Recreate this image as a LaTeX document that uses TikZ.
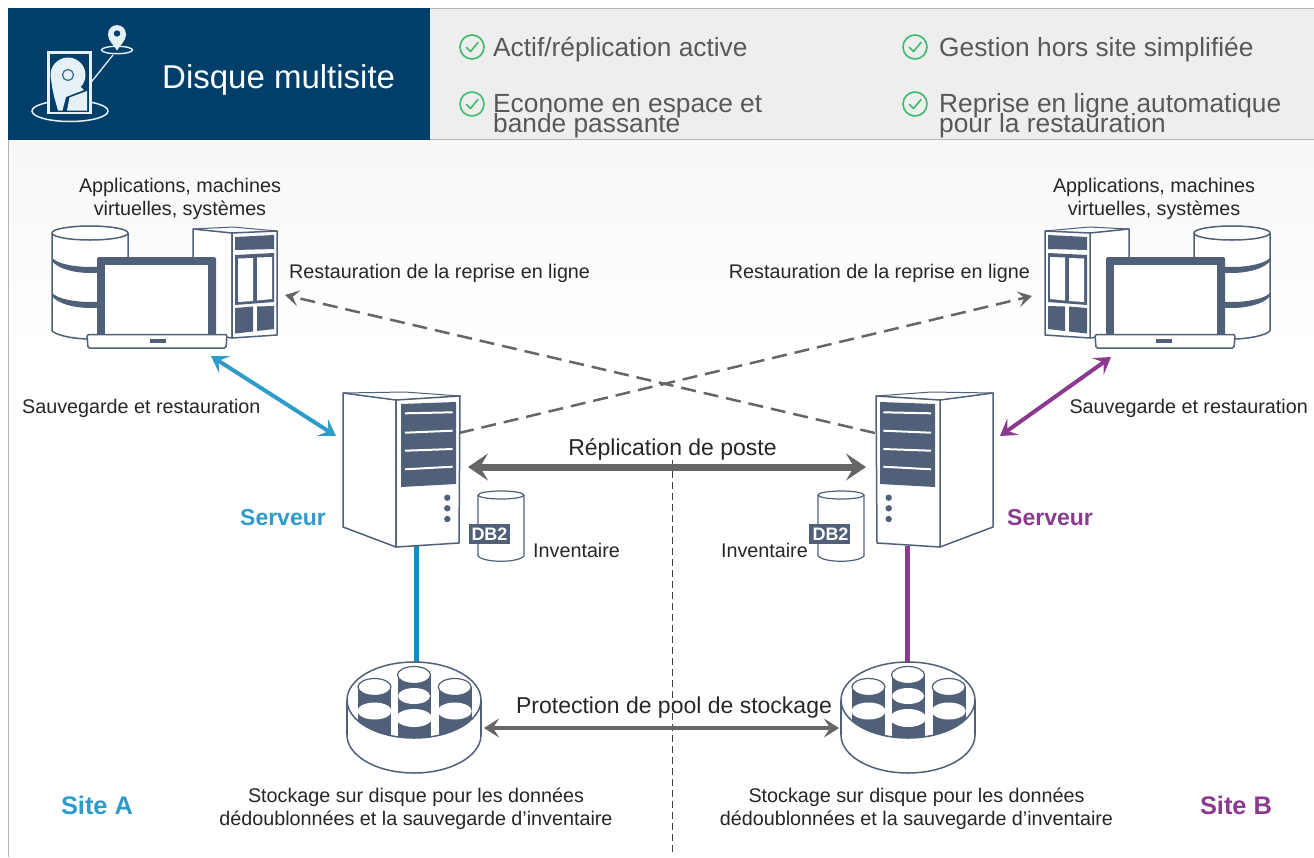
\documentclass[tikz,border=0pt]{standalone}
\usepackage{fontspec}
\setmainfont{Liberation Sans}
\usetikzlibrary{arrows.meta}
\definecolor{navy}{HTML}{003F69}
\definecolor{slate}{HTML}{4F6078}
\definecolor{hdrgray}{HTML}{EEEEEE}
\definecolor{edgegray}{HTML}{B5B5B5}
\definecolor{txtgray}{HTML}{58585C}
\definecolor{okgreen}{HTML}{3DBA6F}
\definecolor{arrowgray}{HTML}{666666}
\definecolor{blueA}{HTML}{0C8FC4}
\definecolor{blueB}{HTML}{2E9CCB}
\definecolor{purpA}{HTML}{8A3A8F}
\definecolor{iconpale}{HTML}{E6F0F7}
\tikzset{
  ol/.style={draw=slate,line width=1.5pt,line join=round},
  lbl/.style={font=\fontsize{19.75}{23}\selectfont,text=black!85,inner sep=0pt,align=center},
  feat/.style={font=\fontsize{26.3}{20}\selectfont,text=txtgray,inner sep=0pt,anchor=base west},
  checkring/.style={draw=okgreen,line width=1.6pt,fill=none},
  checkmark/.style={draw=okgreen,line width=1.6pt,line cap=round,line join=round},
  bigarrow/.style={draw=arrowgray,line width=7pt,{Stealth[length=20pt,width=27pt,inset=8pt]}-{Stealth[length=20pt,width=27pt,inset=8pt]}},
  midarrow/.style={draw=arrowgray,line width=4.5pt,{Stealth[length=15pt,width=19pt,inset=6pt]}-{Stealth[length=15pt,width=19pt,inset=6pt]}},
  thinarrow/.style={line width=4pt,{Stealth[length=16pt,width=20pt,inset=7pt]}-{Stealth[length=16pt,width=20pt,inset=7pt]}},
  dasharrow/.style={draw=arrowgray,line width=2.5pt,dash pattern=on 15pt off 8pt,-{Stealth[length=14pt,width=16pt,inset=6pt]}},
}
\newcommand{\clientgroup}{%
  % database stack
  \fill[white] (52,233) rectangle (128,331);
  \fill[white] (52,331) .. controls (58,336) and (75,339) .. (90,339) .. controls (105,339) and (122,336) .. (128,331) -- cycle;
  \draw[ol] (52,233) -- (52,331) .. controls (58,336) and (75,339) .. (90,339) .. controls (105,339) and (122,336) .. (128,331) -- (128,233);
  \fill[slate] (52,258) .. controls (58,264) and (75,267) .. (90,267) .. controls (105,267) and (122,264) .. (128,258) -- (128,261) .. controls (122,269) and (105,273) .. (90,273) .. controls (75,273) and (58,269) .. (52,261) -- cycle;
  \fill[slate] (52,293) .. controls (58,299) and (75,302) .. (90,302) .. controls (105,302) and (122,299) .. (128,293) -- (128,296) .. controls (122,304) and (105,308) .. (90,308) .. controls (75,308) and (58,304) .. (52,296) -- cycle;
  \draw[ol,fill=white] (90,233) ellipse (38 and 7);
  % tower
  \draw[ol,fill=white] (193,229) -- (232,233) -- (232,338) -- (193,332) -- cycle;
  \draw[ol,fill=white] (232,233) -- (277,231) -- (277,335) -- (232,338) -- cycle;
  \draw[ol,line width=1pt] (193,229) -- (233,227) -- (277,231);
  \fill[slate] (235,237) -- (274,235) -- (274,249) -- (235,250) -- cycle;
  \fill[slate] (235,255) -- (274,253) -- (274,302) -- (235,305) -- cycle;
  \fill[white] (238,258.5) -- (253,258) -- (253,301) -- (238,302) -- cycle;
  \fill[white] (257,257.5) -- (272,257) -- (272,299) -- (257,300.5) -- cycle;
  \fill[slate] (235,308) -- (253,306.5) -- (253,331.5) -- (235,333.5) -- cycle;
  \fill[slate] (257,306.5) -- (274,306) -- (274,329) -- (257,331) -- cycle;
  % laptop
  \fill[slate,rounded corners=1.5pt] (97,257) rectangle (216,335);
  \fill[white] (105,265) rectangle (208,335);
  \draw[ol,fill=white,rounded corners=1.5pt] (87,334.5) -- (227,334.5) -- (226,348) -- (88,348) -- cycle;
  \fill[slate] (150,338.5) rectangle (166,343);
}
\newcommand{\servertower}{%
  \draw[ol,fill=white] (343,393) -- (396,400) -- (396,547) -- (343,527) -- cycle;
  \draw[ol,fill=white] (396,400) -- (460,396) -- (459,543) -- (396,547) -- cycle;
  \draw[ol,line width=1pt] (343,393) -- (405,392) -- (460,396);
  \fill[slate] (401,404) -- (456,402) -- (456,484) -- (401,487) -- cycle;
  \foreach \a/\b in {413.3/412.3,432.7/430.7,450.7/449,469.3/466.7}
    \draw[white,line width=2pt] (405,\a) -- (452.7,\b);
  \foreach \d in {497.7,508.3,519}
    \fill[slate] (447.3,\d) circle (3.2);
}
\newcommand{\dbcyl}{%
  \draw[ol,line width=1.2pt,fill=white] (478,495) -- (478,556) .. controls (484,563) and (518,563) .. (524,556) -- (524,495);
  \draw[ol,line width=1.2pt,fill=white] (501,495) ellipse (23 and 4);
  \fill[slate] (469,524) rectangle (510,544);
}
\newcommand{\diskpool}{%
  \draw[ol,fill=white] (414,735) ellipse (67 and 38);
  \fill[white] (347,700) rectangle (481,735);
  \draw[ol] (347,700) -- (347,735);
  \draw[ol] (481,700) -- (481,735);
  \draw[ol,fill=white] (414,700) ellipse (67 and 38);
  \begin{scope}
    \clip (414,700.5) ellipse (66 and 37.5);
    \fill[slate] (357.5,687) rectangle (391,745);
    \fill[slate] (398,675) rectangle (431,745);
    \fill[slate] (438.5,687) rectangle (472,745);
  \end{scope}
  \foreach \x/\y/\rx/\ry in {414/675/16.5/8.5,374.5/687/16.5/8.5,454.7/687/16.5/8.5}
    \draw[draw=slate,line width=1.2pt,fill=white] (\x,\y) ellipse (\rx pt and \ry pt);
  \foreach \x/\y/\rx/\ry in {414/696/16/8,414/718/18/9,374.5/711/17/8.5,454.7/711/17/8.5}
    \fill[white] (\x,\y) ellipse (\rx pt and \ry pt);
}
\newcommand{\checkicon}[2]{%
  \draw[checkring] (#1,#2) circle (12);
  \draw[checkmark] (#1-5.5,#2+0.5) -- (#1-1.5,#2+4.5) -- (#1+6,#2-4.5);
}
\begin{document}
\begin{tikzpicture}[x=1pt,y=-1pt]
\useasboundingbox (0,0) rectangle (1314,857);
\fill[white] (0,0) rectangle (1314,857);
% soft background below the header
\shade[top color=black!3,bottom color=white] (8,140) rectangle (1314,350);
% header
\fill[hdrgray] (430,8) rectangle (1314,139.5);
\draw[edgegray,line width=1pt] (430,8) -- (1314,8);
\draw[edgegray,line width=1pt] (430,139.5) -- (1314,139.5);
\draw[edgegray,line width=1pt] (8,140) -- (8,857);
\fill[navy] (8,8) rectangle (430,140);
% header icon
\draw[iconpale,line width=1.5pt] (70,111) ellipse (38 and 10.5);
\draw[draw=iconpale,fill=navy,line width=2.2pt] (48.5,52.5) rectangle (90.5,113);
\fill[iconpale] (68,75) circle (17.5);
\fill[iconpale] (51,78) .. controls (52,90) and (55,100) .. (58,110.5) -- (62.5,110.5) -- (66,97) -- (84,90) -- (68,75) -- cycle;
\fill[iconpale] (67,110.5) -- (69.5,97.5) -- (87,91) -- (87,110.5) -- cycle;
\draw[navy!75!white,line width=1.3pt,fill=iconpale] (68,75) circle (5.5);
\draw[iconpale,line width=1.3pt] (90.5,83) -- (113,55);
\draw[iconpale,line width=1.4pt] (117,50) ellipse (15.5 and 3.7);
\fill[iconpale] (117,50.5) .. controls (114,45) and (108,41) .. (108,34.5) .. controls (108,22) and (126,22) .. (126,34.5) .. controls (126,41) and (120,45) .. (117,50.5) -- cycle;
\fill[navy] (117,33.5) circle (3.2);
\node[font=\fontsize{33}{36}\selectfont,text=white,inner sep=0pt,anchor=base west] (title) at (162,88) {Disque multisite};
% feature list
\checkicon{472}{47}\checkicon{472}{104}\checkicon{915}{47}\checkicon{915}{104}
\node[feat] (f1) at (493,56) {Actif/réplication active};
\node[feat] (f2a) at (493,112) {Econome en espace et};
\node[feat] (f2b) at (493,132) {bande passante};
\node[feat] (f3) at (939,56) {Gestion hors site simplifiée};
\node[feat] (f4a) at (939,112) {Reprise en ligne automatique};
\node[feat] (f4b) at (939,132) {pour la restauration};
% site divider
\coordinate (divtop) at (672,460);
\coordinate (divbot) at (672,852);
\draw[black!75,line width=1pt,dash pattern=on 7pt off 4pt] (divtop) -- (divbot);
% connector anchors
\coordinate (srvAtop) at (459,433);
\coordinate (srvBtop) at (875,433);
\coordinate (cltArest) at (285,295);
\coordinate (cltBrest) at (1032,296);
\coordinate (cltAlink) at (211,356);
\coordinate (srvAlink) at (336,436);
\coordinate (cltBlink) at (1111,357);
\coordinate (srvBlink) at (1000,436);
\coordinate (srvArep) at (468,467);
\coordinate (srvBrep) at (866,467);
\coordinate (poolAr) at (484,728);
\coordinate (poolBl) at (839,728);
\coordinate (srvAbot) at (416,546);
\coordinate (srvBbot) at (907,546);
\coordinate (poolAtop) at (416,664);
\coordinate (poolBtop) at (907,664);
% connectors under the icons
\draw[blueA,line width=5pt] (srvAbot) -- (poolAtop);
\draw[purpA,line width=5pt] (srvBbot) -- (poolBtop);
\draw[dasharrow] (srvAtop) -- (cltBrest);
\draw[dasharrow] (srvBtop) -- (cltArest);
% icons
\clientgroup
\begin{scope}[shift={(1322,0)},xscale=-1]\clientgroup\end{scope}
\servertower
\begin{scope}[shift={(1336,0)},xscale=-1]\servertower\end{scope}
\dbcyl
\begin{scope}[shift={(340,0)}]\dbcyl\end{scope}
\diskpool
\begin{scope}[shift={(494,0)}]\diskpool\end{scope}
% arrows
\draw[thinarrow,draw=blueB] (cltAlink) -- (srvAlink);
\draw[thinarrow,draw=purpA] (cltBlink) -- (srvBlink);
\draw[bigarrow] (srvArep) -- (srvBrep);
\draw[midarrow] (poolAr) -- (poolBl);
% DB2 tags
\node[font=\bfseries\fontsize{18}{20}\selectfont,text=white,inner sep=0pt] (dbA) at (489.5,534) {DB2};
\node[font=\bfseries\fontsize{18}{20}\selectfont,text=white,inner sep=0pt] (dbB) at (830.5,534) {DB2};
% labels
\node[lbl] (appA) at (180,199) {Applications, machines\\virtuelles, systèmes};
\node[lbl] (appB) at (1154,199) {Applications, machines\\virtuelles, systèmes};
\node[lbl,anchor=base west] (restA) at (289,278) {Restauration de la reprise en ligne};
\node[lbl,anchor=base east] (restB) at (1030,278) {Restauration de la reprise en ligne};
\node[lbl,anchor=base west] (saveA) at (22,413) {Sauvegarde et restauration};
\node[lbl,anchor=base east] (saveB) at (1308,413) {Sauvegarde et restauration};
\node[lbl,font=\fontsize{23}{26}\selectfont,anchor=base] (repl) at (672.5,455) {Réplication de poste};
\node[lbl,font=\fontsize{23}{26}\selectfont,anchor=base] (prot) at (674,713) {Protection de pool de stockage};
\node[lbl,font=\bfseries\fontsize{23}{26}\selectfont,text=blueB,anchor=base] (srvA) at (283,525) {Serveur};
\node[lbl,font=\bfseries\fontsize{23}{26}\selectfont,text=purpA,anchor=base] (srvB) at (1050,525) {Serveur};
\node[lbl,anchor=base west] (invA) at (533,557) {Inventaire};
\node[lbl,anchor=base east] (invB) at (808,557) {Inventaire};
\node[lbl] (stoA) at (416,809) {Stockage sur disque pour les données\\dédoublonnées et la sauvegarde d'inventaire};
\node[lbl] (stoB) at (916.5,809) {Stockage sur disque pour les données\\dédoublonnées et la sauvegarde d'inventaire};
\node[lbl,font=\bfseries\fontsize{25.4}{28}\selectfont,text=blueB,anchor=base] (siteA) at (97,814) {Site A};
\node[lbl,font=\bfseries\fontsize{25.4}{28}\selectfont,text=purpA,anchor=base] (siteB) at (1236,814) {Site B};
\end{tikzpicture}
\end{document}
